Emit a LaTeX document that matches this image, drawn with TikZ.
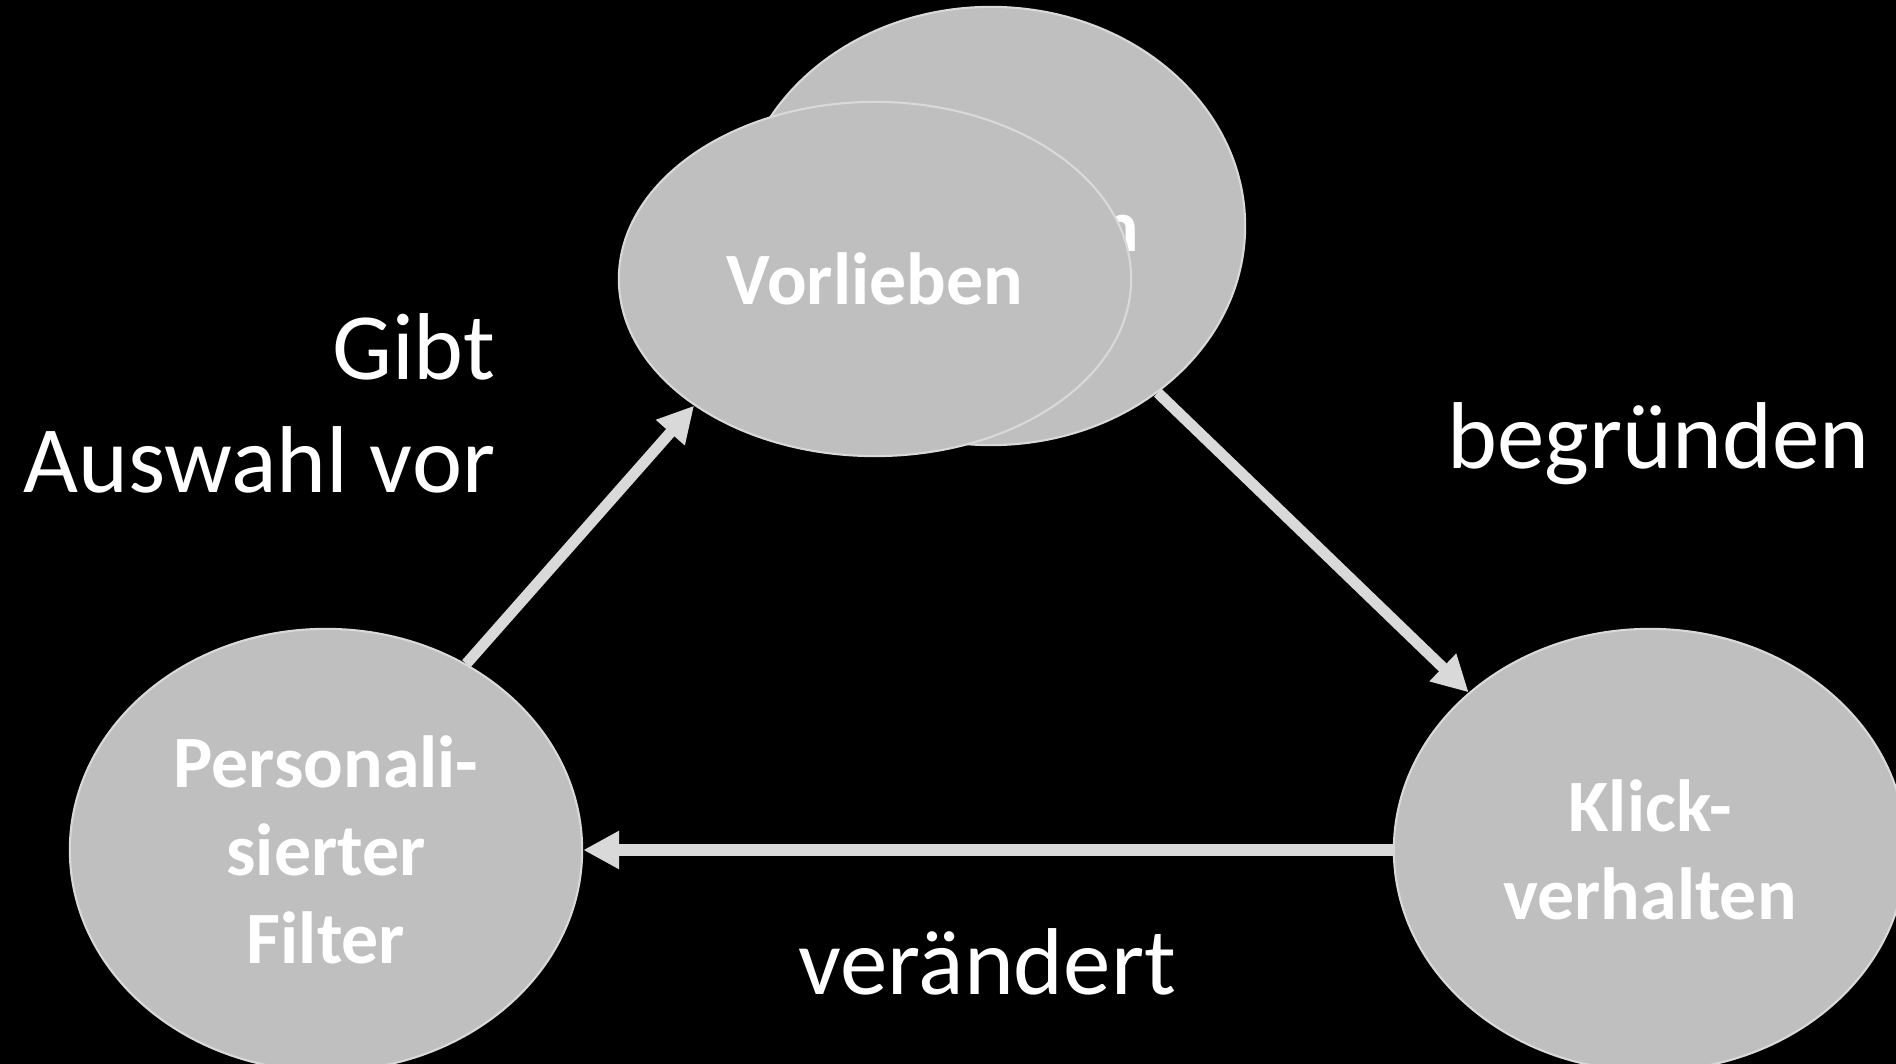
\documentclass[tikz,border=0pt]{standalone}
\usepackage{fontspec}
\setmainfont{Carlito}
\usetikzlibrary{shapes.geometric,arrows.meta}
\definecolor{ellfill}{HTML}{BFBFBF}
\definecolor{ellline}{HTML}{D9D9D9}
\begin{document}
\begin{tikzpicture}[x=0.01cm,y=-0.01cm,
  bubble/.style={ellipse, fill=ellfill, draw=ellline, line width=0.6pt, inner sep=0pt,
    text=white, font=\bfseries\fontsize{21}{25}\selectfont, align=center},
  lbl/.style={text=white, font=\fontsize{27}{32}\selectfont, inner sep=0pt},
  conn/.style={draw=ellline, line width=0.11cm, -{Triangle[length=0.36cm,width=0.36cm]}}]
\fill[black] (0,0) rectangle (1896,1064);
\useasboundingbox (0,0) rectangle (1896,1064);
\node[bubble, minimum width=5.08cm, minimum height=4.38cm] (B) at (991,226) {Vorlieben};
\node[bubble, minimum width=5.12cm, minimum height=3.54cm] (F) at (875,279) {Vorlieben};
\node[bubble, minimum width=5.12cm, minimum height=4.42cm] (L) at (326,850) {Personali-\\sierter\\Filter};
\node[bubble, minimum width=5.12cm, minimum height=4.42cm] (R) at (1650,850) {Klick-\\verhalten};
\draw[conn] (L.53) -- (F.215);
\draw[conn] (B.-45) -- (R.139);
\draw[conn] (R.west) -- (L.east);
\node[lbl, anchor=base east] (gibt) at (496,380) {Gibt};
\node[lbl, anchor=base east] (auswahl) at (496,493) {Auswahl vor};
\node[lbl, anchor=base west] (begr) at (1447,469) {begründen};
\node[lbl, anchor=base] (ver) at (987,994) {verändert};
\end{tikzpicture}
\end{document}
